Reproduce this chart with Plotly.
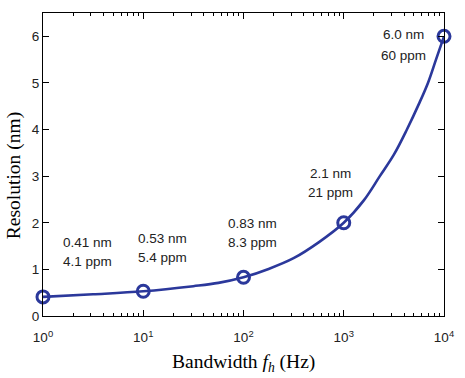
import math
import plotly.graph_objects as go

# Measured points (markers)
bandwidth_hz = [1, 10, 100, 1000, 10000]
resolution_nm = [0.41, 0.53, 0.83, 2.0, 6.0]

# Curve
curve_hz = [1, 3.16, 10, 31.6, 56.2, 100, 178, 316, 562, 1000, 1585, 2291, 3162, 4266, 5623, 6918, 8318, 10000]
curve_nm = [0.41, 0.465, 0.53, 0.64, 0.71, 0.83, 1.01, 1.24, 1.58, 2.0, 2.48, 3.0, 3.46, 4.0, 4.55, 5.0, 5.5, 6.0]

# Annotation labels
label_nm = ["0.41 nm", "0.53 nm", "0.83 nm", "2.1 nm", "6.0 nm"]
label_ppm = ["4.1 ppm", "5.4 ppm", "8.3 ppm", "21 ppm", "60 ppm"]
# label anchor positions (x in Hz, y in nm for each line)
label_x = [2.81, 15.6, 121.6, 746, 3900]
label_y = [1.57, 1.665, 1.99, 3.06, 6.04]
label_y2 = [1.16, 1.26, 1.58, 2.66, 5.59]

x_tickvals = [1, 10, 100, 1000, 10000]
x_ticktext = ["10<sup>0</sup>", "10<sup>1</sup>", "10<sup>2</sup>", "10<sup>3</sup>", "10<sup>4</sup>"]
y_tickvals = [0, 1, 2, 3, 4, 5, 6]

x_title = "Bandwidth <i>f<sub>h</sub></i> (Hz)"
y_title = "Resolution (nm)"

minor_vals = [m * 10 ** k for k in range(4) for m in range(2, 10)]

BLUE = "#2b389b"
TEXT = "#222222"
SANS = "Liberation Sans, Arial, sans-serif"
SERIF = "Liberation Serif, Times New Roman, serif"

fig = go.Figure()
fig.add_trace(go.Scatter(
    x=curve_hz, y=curve_nm, mode="lines",
    line=dict(color=BLUE, width=2.6, shape="spline", smoothing=1.0),
    showlegend=False, hoverinfo="skip", cliponaxis=False))
fig.add_trace(go.Scatter(
    x=bandwidth_hz, y=resolution_nm, mode="markers",
    marker=dict(symbol="circle-open", size=12, color=BLUE, line=dict(width=3, color=BLUE)),
    showlegend=False, cliponaxis=False))

for xv, yv, yv2, t1, t2 in zip(label_x, label_y, label_y2, label_nm, label_ppm):
    fig.add_annotation(x=math.log10(xv), y=yv, text=t1, showarrow=False,
                       xanchor="center", yanchor="middle",
                       font=dict(family=SANS, size=13.5, color=TEXT))
    fig.add_annotation(x=math.log10(xv), y=yv2, text=t2, showarrow=False,
                       xanchor="center", yanchor="middle",
                       font=dict(family=SANS, size=13.5, color=TEXT))

# Axis titles placed as annotations for exact positioning
fig.add_annotation(xref="paper", yref="paper", x=0.5, y=-0.155, text=x_title,
                   showarrow=False, xanchor="center", yanchor="middle",
                   font=dict(family=SERIF, size=19.5, color="black"))
fig.add_annotation(xref="paper", yref="paper", x=-0.072, y=0.462, text=y_title,
                   showarrow=False, xanchor="center", yanchor="middle", textangle=-90,
                   font=dict(family=SERIF, size=19.5, color="black"))

fig.update_layout(
    width=465, height=378,
    margin=dict(l=43, r=21, t=13, b=62),
    paper_bgcolor="white", plot_bgcolor="white",
    font=dict(family=SANS, size=13.5, color=TEXT),
    xaxis=dict(
        type="log", range=[0, 4], automargin=False,
        tickmode="array", tickvals=x_tickvals, ticktext=x_ticktext,
        ticks="inside", ticklen=6, tickwidth=1, tickcolor="black",
        ticklabelstandoff=9,
        minor=dict(tickmode="array", tickvals=minor_vals, ticks="inside", ticklen=3,
                   tickwidth=1, tickcolor="black", showgrid=False),
        showline=True, linecolor="black", linewidth=1, mirror="ticks",
        showgrid=False, zeroline=False,
        tickfont=dict(size=13.5, color=TEXT),
    ),
    yaxis=dict(
        range=[0, 6.5], automargin=False,
        tickmode="array", tickvals=y_tickvals,
        ticks="inside", ticklen=6, tickwidth=1, tickcolor="black",
        showline=True, linecolor="black", linewidth=1, mirror="ticks",
        showgrid=False, zeroline=False,
        tickfont=dict(size=13.5, color=TEXT),
    ),
)

fig.write_html("out.html",
               config={"displayModeBar": False},
               post_script="document.body.style.margin='0';document.body.style.overflow='hidden';")
